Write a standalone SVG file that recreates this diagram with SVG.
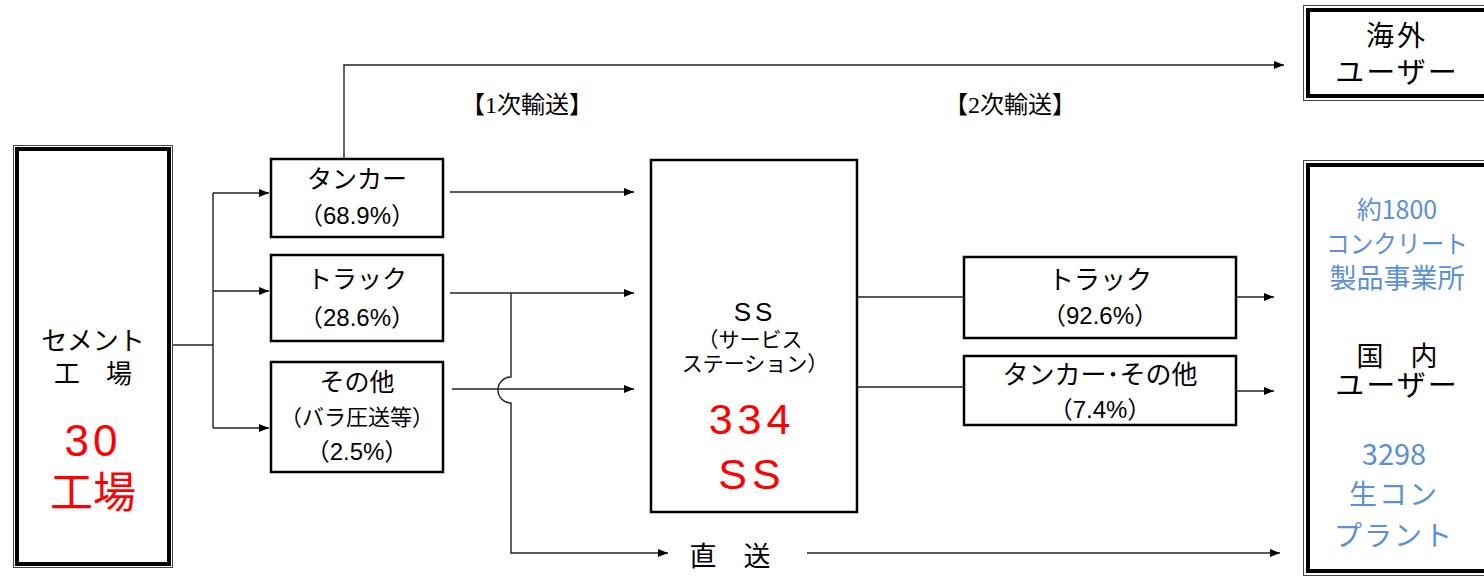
<svg xmlns="http://www.w3.org/2000/svg" width="1484" height="576" viewBox="0 0 1484 576">
<defs>
<marker id="arr" markerUnits="userSpaceOnUse" markerWidth="11" markerHeight="9" refX="10" refY="4" orient="auto">
<path d="M0,0 L10,4 L0,8 z" fill="#000"/>
</marker>
<style>
.t{font-family:"Liberation Sans","Noto Sans CJK JP",sans-serif;fill:#000;text-anchor:middle;dominant-baseline:central}
.j{font-family:"Noto Sans CJK JP",sans-serif;text-anchor:middle;dominant-baseline:central}
.s{font-family:"Liberation Serif","Noto Sans CJK JP",serif;fill:#000;text-anchor:middle;dominant-baseline:central}
.red{fill:#ff0000}
.blue{fill:#5b8fd6}
.box{fill:#fff;stroke:#000;stroke-width:2.5}
.thin{fill:#fff;stroke:#444;stroke-width:1}
.thick{fill:none;stroke:#000;stroke-width:4}
.c{fill:none;stroke:#222;stroke-width:1.4}
</style>
</defs>
<rect width="1484" height="576" fill="#fff"/>

<g id="cement-plant">
<rect class="thin" x="13.5" y="145.5" width="159" height="422"/>
<rect class="thick" x="17" y="149" width="152" height="415"/>
<text class="t" x="93" y="341" font-size="26">セメント</text>
<text class="t" x="93" y="374" font-size="26" xml:space="preserve">工　場</text>
<text class="t red" x="93" y="440" font-size="44" letter-spacing="4">30</text>
<text class="t red" x="93" y="493" font-size="43">工場</text>
</g>

<g id="overseas-users">
<rect class="thin" x="1303.5" y="5.5" width="190" height="95"/>
<rect class="thick" x="1308" y="10" width="190" height="86"/>
<text class="t" x="1397" y="36" font-size="28" letter-spacing="3">海外</text>
<text class="t" x="1397" y="73" font-size="29" letter-spacing="2">ユーザー</text>
</g>

<g id="domestic-users">
<rect class="thin" x="1303.5" y="160.5" width="190" height="415"/>
<rect class="thick" x="1308" y="165" width="190" height="406"/>
<text class="j blue" x="1397" y="208" font-size="25">約1800</text>
<text class="j blue" x="1397" y="242" font-size="25" textLength="142" lengthAdjust="spacingAndGlyphs">コンクリート</text>
<text class="j blue" x="1397" y="276" font-size="27">製品事業所</text>
<text class="t" x="1397" y="357" font-size="27" xml:space="preserve">国　内</text>
<text class="t" x="1397" y="386" font-size="29" letter-spacing="2">ユーザー</text>
<text class="j blue" x="1394" y="452" font-size="29">3298</text>
<text class="j blue" x="1394" y="493" font-size="28" letter-spacing="2">生コン</text>
<text class="j blue" x="1394" y="534" font-size="28" letter-spacing="2">プラント</text>
</g>

<g id="tanker">
<rect class="box" x="271" y="159" width="172" height="78"/>
<text class="t" x="357" y="179" font-size="25">タンカー</text>
<text class="t" x="357" y="215" font-size="24">（68.9%）</text>
</g>

<g id="truck1">
<rect class="box" x="271" y="255" width="172" height="86"/>
<text class="t" x="357" y="279" font-size="25">トラック</text>
<text class="t" x="357" y="317" font-size="24">（28.6%）</text>
</g>

<g id="other1">
<rect class="box" x="271" y="362" width="172" height="110"/>
<text class="t" x="357" y="382" font-size="25">その他</text>
<text class="t" x="357" y="417" font-size="22">（バラ圧送等）</text>
<text class="t" x="357" y="451" font-size="24">（2.5%）</text>
</g>

<g id="ss">
<rect class="box" x="651" y="160" width="206" height="352"/>
<text class="t" x="755" y="312" font-size="26" letter-spacing="4">SS</text>
<text class="t" x="750" y="339" font-size="21">（サービス</text>
<text class="t" x="755" y="363" font-size="21">ステーション）</text>
<text class="t red" x="752" y="419" font-size="43" letter-spacing="5">334</text>
<text class="t red" x="752" y="474" font-size="43" letter-spacing="5">SS</text>
</g>

<g id="truck2">
<rect class="box" x="964" y="257" width="272" height="81"/>
<text class="t" x="1100" y="280" font-size="26">トラック</text>
<text class="t" x="1100" y="315" font-size="24">（92.6%）</text>
</g>

<g id="tanker-other2">
<rect class="box" x="964" y="356" width="272" height="69"/>
<text class="t" x="1100" y="375" font-size="26">タンカー･その他</text>
<text class="t" x="1100" y="409" font-size="24">（7.4%）</text>
</g>

<g id="labels">
<text class="s" x="527" y="105" font-size="24">【1次輸送】</text>
<text class="s" x="1010" y="105" font-size="24">【2次輸送】</text>
<text class="t" x="730" y="557" font-size="27" xml:space="preserve">直　送</text>
</g>

<g id="connectors">
<path class="c" d="M173,345 H213 M213,193 V428"/>
<path class="c" d="M213,193 H269" marker-end="url(#arr)"/>
<path class="c" d="M213,291 H269" marker-end="url(#arr)"/>
<path class="c" d="M213,428 H269" marker-end="url(#arr)"/>
<path class="c" d="M344,159 V65 H1284" marker-end="url(#arr)"/>
<path class="c" d="M450,192 H634" marker-end="url(#arr)"/>
<path class="c" d="M450,293 H634" marker-end="url(#arr)"/>
<path class="c" d="M452,389 H634" marker-end="url(#arr)"/>
<path class="c" d="M511,293 V377 A13,13 0 0 0 511,403 V553 H668" marker-end="url(#arr)"/>
<path class="c" d="M807,553 H1280" marker-end="url(#arr)"/>
<path class="c" d="M857,297 H964 M857,387 H964"/>
<path class="c" d="M1236,297 H1274" marker-end="url(#arr)"/>
<path class="c" d="M1236,391 H1274" marker-end="url(#arr)"/>
</g>
</svg>
